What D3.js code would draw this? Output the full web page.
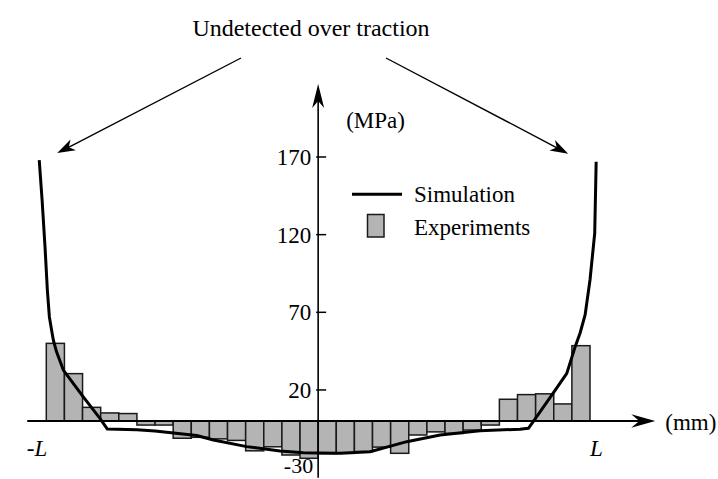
<!DOCTYPE html>
<html>
<head>
<meta charset="utf-8">
<script src="https://cdn.jsdelivr.net/npm/d3@7"></script>
<style>
  body { margin: 0; background: #fff; }
  svg { display: block; }
  text { font-family: "Liberation Serif", "Times New Roman", serif; fill: #000; }
</style>
</head>
<body>
<svg id="chart" width="718" height="479"></svg>
<script>
// Measurement bins along the contact length (bin centres, in bin units from the centre)
const binCenters = [-14.5, -13.5, -12.5, -11.5, -10.5, -9.5, -8.5, -7.5, -6.5, -5.5,
                    -4.5, -3.5, -2.5, -1.5, -0.5, 0.5, 1.5, 2.5, 3.5, 4.5,
                    5.5, 6.5, 7.5, 8.5, 9.5, 10.5, 11.5, 12.5, 13.5, 14.5];
// Measured contact stress per bin (MPa)
const expValues = [50, 30.5, 8.8, 5.2, 4.8, -2.6, -2.6, -11.1, -10.5, -11.5,
                   -12.5, -19.2, -16.6, -21.9, -24, -21, -20.8, -19.7, -16.8, -20.8,
                   -9, -7, -8, -5.8, -2.6, 14, 17, 17.5, 11, 48.5];
// Simulated stress profile: position and stress (MPa)
const simX = [-15.39, -15.23, -15.07, -14.94, -14.83, -14.70, -14.61, -14.43, -14.06, -12.96,
              -12.04, -11.63, -10.01, -9.0, -6.7, -5.78, -3.94, -2.1, -0.82, 0,
              1.2, 2.86, 4.89, 6.73, 8.93, 11.14, 11.6, 12.06, 12.89, 13.72,
              14.18, 14.45, 14.73, 15.0, 15.26, 15.34];
const simY = [168, 142, 112, 84, 67, 58, 52, 44.4, 32.8, 15.6,
              1.7, -5.2, -5.6, -6.4, -9.3, -12.2, -16.5, -19.3, -20.4, -20.6,
              -20.8, -19.8, -13.3, -9, -6.2, -5.3, -4.7, 2.8, 16.7, 30.7,
              47.8, 56.5, 68.3, 90.8, 120.9, 167];
const yTicks = [20, 70, 120, 170];
const yExtraLabel = -30;
const halfLength = 15.35;           // the ±L ends of the contact
const endLabels = ["-L", "L"];
const seriesNames = ["Simulation", "Experiments"];
const titleText = "Undetected over traction";

const svg = d3.select("#chart");
const x = d3.scaleLinear().domain([-15, 15]).range([46.3, 590]);
const y = d3.scaleLinear().domain([-30, 170]).range([467.6, 157]);
const x0 = x(0), y0 = y(0);

// filled arrowhead with a concave back
function arrowHead(tx, ty, angle, len, half, notch) {
  const c = Math.cos(angle), s = Math.sin(angle);
  const pt = (a, b) => [tx - a * c - b * s, ty - a * s + b * c];
  const p = [pt(0, 0), pt(len, half), pt(len - notch, 0), pt(len, -half)];
  return "M" + p.map(q => q.join(",")).join("L") + "Z";
}

// experimental bars
svg.append("g").selectAll("rect")
  .data(binCenters.map((c, i) => ({ c, v: expValues[i] })))
  .join("rect")
  .attr("x", d => x(d.c - 0.5))
  .attr("width", d => x(d.c + 0.5) - x(d.c - 0.5))
  .attr("y", d => Math.min(y(d.v), y0))
  .attr("height", d => Math.abs(y(d.v) - y0))
  .attr("fill", "#b4b4b4")
  .attr("stroke", "#1a1a1a")
  .attr("stroke-width", 1.5);

// axes
const xAxisStart = x(-16.05), xAxisEnd = x(18.6);
const yAxisTop = y(217), yAxisBottom = y(-36.5);
svg.append("line").attr("x1", xAxisStart).attr("x2", xAxisEnd - 10)
  .attr("y1", y0).attr("y2", y0).attr("stroke", "#000").attr("stroke-width", 2);
svg.append("path").attr("d", arrowHead(xAxisEnd, y0, 0, 24, 6.7, 8)).attr("fill", "#000");
svg.append("line").attr("x1", x0).attr("x2", x0)
  .attr("y1", yAxisBottom).attr("y2", yAxisTop + 10).attr("stroke", "#000").attr("stroke-width", 1.6);
svg.append("path").attr("d", arrowHead(x0, yAxisTop, -Math.PI / 2, 24, 6, 7)).attr("fill", "#000");

// y ticks and labels
const tickG = svg.append("g");
yTicks.forEach(t => {
  tickG.append("line").attr("x1", x0 - 2).attr("x2", x0 + 8)
    .attr("y1", y(t)).attr("y2", y(t)).attr("stroke", "#000").attr("stroke-width", 1.5);
  tickG.append("text").attr("x", x0 - 7).attr("y", y(t)).attr("dy", "0.35em")
    .attr("text-anchor", "end").attr("font-size", 23).text(t);
});
// the lowest label sits just above the bottom edge
tickG.append("text").attr("x", x0 - 5).attr("y", y(yExtraLabel) + 5.5)
  .attr("text-anchor", "end").attr("font-size", 22).text(yExtraLabel);

// axis units
svg.append("text").attr("x", x0 + 28).attr("y", 128).attr("font-size", 23).text("(MPa)");
svg.append("text").attr("x", xAxisEnd + 10).attr("y", y0 + 9).attr("font-size", 23).text("(mm)");

// ±L labels
svg.append("text").attr("x", x(-halfLength) - 3).attr("y", 456).attr("text-anchor", "middle")
  .attr("font-size", 23).attr("font-style", "italic").text(endLabels[0]);
svg.append("text").attr("x", x(halfLength)).attr("y", 456).attr("text-anchor", "middle")
  .attr("font-size", 23).attr("font-style", "italic").text(endLabels[1]);

// simulation curve
svg.append("path")
  .datum(simX.map((v, i) => [v, simY[i]]))
  .attr("d", d3.line().x(d => x(d[0])).y(d => y(d[1])))
  .attr("fill", "none").attr("stroke", "#000").attr("stroke-width", 3)
  .attr("stroke-linejoin", "round");

// legend
const lg = svg.append("g");
lg.append("line").attr("x1", 352).attr("x2", 402).attr("y1", 194.3).attr("y2", 194.3)
  .attr("stroke", "#000").attr("stroke-width", 3);
lg.append("text").attr("x", 414).attr("y", 202).attr("font-size", 23).text(seriesNames[0]);
lg.append("rect").attr("x", 367.5).attr("y", 214.5).attr("width", 16.5).attr("height", 22.5)
  .attr("fill", "#b4b4b4").attr("stroke", "#1a1a1a").attr("stroke-width", 1.5);
lg.append("text").attr("x", 414).attr("y", 235).attr("font-size", 23).text(seriesNames[1]);

// annotation pointing at both curve ends
svg.append("text").attr("x", 311).attr("y", 36).attr("text-anchor", "middle")
  .attr("font-size", 24).text(titleText);
const annoStarts = [[241, 58], [386, 58]];
const annoTips = [[x(simX[0]) + 18, y(simY[0]) - 7], [x(simX[simX.length - 1]) - 28, y(simY[simY.length - 1]) - 8]];
annoStarts.forEach((s, i) => {
  const t = annoTips[i];
  const ang = Math.atan2(t[1] - s[1], t[0] - s[0]);
  svg.append("line").attr("x1", s[0]).attr("y1", s[1])
    .attr("x2", t[0] - 10 * Math.cos(ang)).attr("y2", t[1] - 10 * Math.sin(ang))
    .attr("stroke", "#000").attr("stroke-width", 1.4);
  svg.append("path").attr("d", arrowHead(t[0], t[1], ang, 18, 6, 5)).attr("fill", "#000");
});
</script>
</body>
</html>
